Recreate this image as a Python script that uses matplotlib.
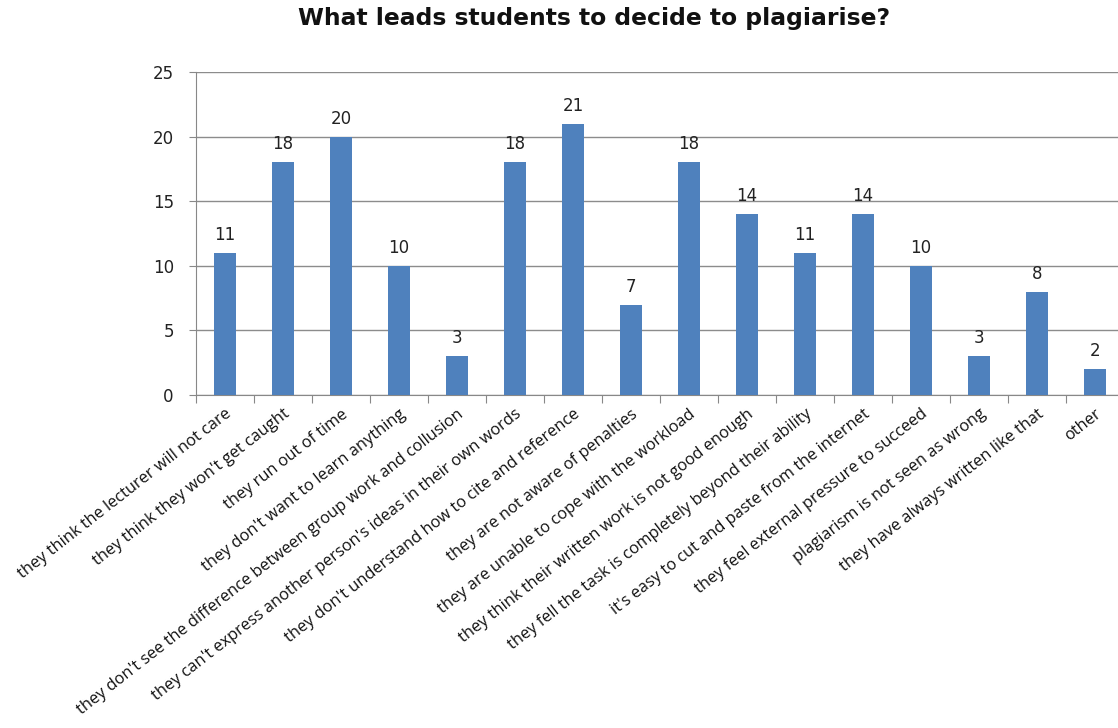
import matplotlib
matplotlib.use("Agg")
import matplotlib.pyplot as plt

plt.rcParams['font.family'] = ['Open Sans', 'DejaVu Sans']

reasons = [
    "they think the lecturer will not care",
    "they think they won't get caught",
    "they run out of time",
    "they don't want to learn anything",
    "they don't see the difference between group work and collusion",
    "they can't express another person's ideas in their own words",
    "they don't understand how to cite and reference",
    "they are not aware of penalties",
    "they are unable to cope with the workload",
    "they think their written work is not good enough",
    "they fell the task is completely beyond their ability",
    "it's easy to cut and paste from the internet",
    "they feel external pressure to succeed",
    "plagiarism is not seen as wrong",
    "they have always written like that",
    "other",
]
counts = [11, 18, 20, 10, 3, 18, 21, 7, 18, 14, 11, 14, 10, 3, 8, 2]
yticks = [0, 5, 10, 15, 20, 25]

fig = plt.figure(figsize=(11.18, 7.28), dpi=100)
ax = fig.add_axes([0.1753, 0.4574, 0.830, 0.4437])

x = range(len(reasons))
bars = ax.bar(x, counts, width=0.38, color='#4F81BD', zorder=3)
for xi, v in zip(x, counts):
    ax.text(xi, v + 0.7, str(v), ha='center', va='bottom', fontsize=12,
            family=['DejaVu Sans'], color='#222222')

ax.set_xlim(-0.5, len(reasons) - 0.5)
ax.set_ylim(0, 25)
ax.set_yticks(yticks)
ax.set_yticklabels([str(t) for t in yticks], family=['DejaVu Sans'])
ax.tick_params(axis='y', labelsize=12, length=5, color='#888888', pad=11, labelcolor='#222222')
ax.yaxis.grid(True, color='#8c8c8c', linewidth=1, zorder=0)

ax.set_xticks([i + 0.5 for i in range(-1, len(reasons))], minor=False)
ax.set_xticklabels([])
ax.set_xticks(list(x), minor=True)
ax.set_xticklabels(reasons, minor=True, rotation=38, ha='right', rotation_mode='anchor',
                   fontsize=11.8, color='#111111')
ax.tick_params(axis='x', which='major', length=6, color='#888888', direction='out')
ax.tick_params(axis='x', which='minor', length=0, pad=8)

for side in ['top', 'right']:
    ax.spines[side].set_visible(False)
for side in ['left', 'bottom']:
    ax.spines[side].set_color('#888888')

fig.text(0.531, 0.974, "What leads students to decide to plagiarise?", ha='center', va='center',
         fontsize=16.9, fontweight='bold', family=['DejaVu Sans'], color='#111111')

fig.savefig("out.png", dpi=100)
